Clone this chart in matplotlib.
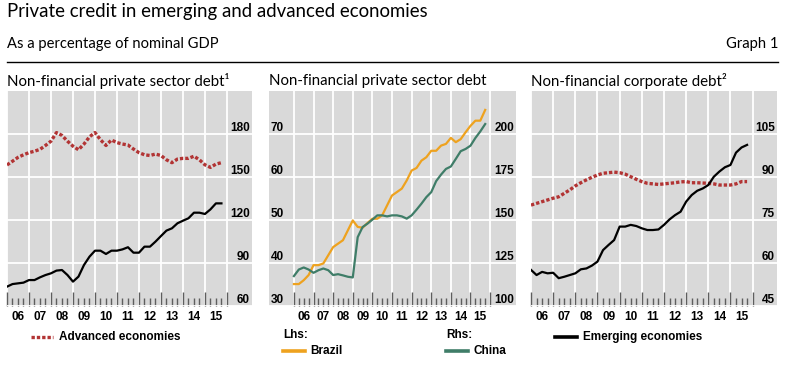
import matplotlib
matplotlib.use("Agg")
import matplotlib.pyplot as plt
import numpy as np
import pandas as pd
from matplotlib.lines import Line2D

# ---------------- data (quarterly, 2006Q1 - 2015Q4) ----------------
quarters = pd.period_range("2006Q1", "2015Q4", freq="Q")
x_q = np.asarray(quarters.year + (quarters.quarter - 1) / 4.0, dtype=float)

year_labels = ["06", "07", "08", "09", "10", "11", "12", "13", "14", "15"]

# Panel 1: non-financial private sector debt (% of GDP)
p1_advanced = [158.4, 161.0, 163.7, 165.5, 167.0, 168.0, 169.3, 172.0, 175.0, 181.0,
               179.0, 175.0, 171.5, 169.0, 173.0, 178.0, 181.0, 176.0, 172.0, 175.8,
               174.0, 173.0, 172.3, 169.5, 167.0, 165.5, 165.0, 166.0, 165.0, 162.0,
               160.0, 162.5, 163.0, 163.0, 164.5, 162.0, 158.5, 156.7, 159.0, 160.0]
p1_emerging = [73.5, 75.3, 75.8, 76.3, 78.1, 78.1, 80.0, 81.6, 82.8, 84.7,
               85.1, 81.6, 77.0, 80.5, 88.6, 94.4, 98.6, 98.6, 96.3, 98.6,
               98.6, 99.5, 101.0, 97.2, 97.2, 101.4, 101.4, 104.9, 108.8, 112.6,
               114.2, 117.7, 119.5, 121.2, 125.1, 125.1, 124.2, 127.4, 131.6, 131.6]

# Panel 2: Brazil (lhs), China (rhs)
p2_brazil = [35.1, 35.1, 36.0, 37.2, 39.5, 39.5, 39.9, 41.8, 43.7, 44.5,
             45.3, 47.6, 49.9, 48.4, 48.2, 49.3, 50.3, 50.3, 51.1, 53.4,
             55.7, 56.5, 57.3, 59.2, 61.5, 62.1, 63.8, 64.6, 66.1, 66.1,
             67.3, 67.7, 69.1, 68.1, 68.8, 70.4, 71.9, 73.1, 73.1, 75.6]
p2_china = [117.4, 121.2, 122.4, 121.2, 119.3, 120.8, 121.8, 120.8, 118.0, 118.5,
            117.8, 117.0, 116.6, 140.0, 145.9, 147.9, 150.2, 152.7, 152.7, 152.1,
            152.7, 152.7, 152.1, 150.8, 152.7, 156.0, 159.5, 163.3, 166.2, 172.6,
            176.4, 179.7, 181.1, 185.5, 190.0, 191.3, 193.2, 197.7, 201.5, 205.8]

# Panel 3: non-financial corporate debt
p3_advanced = [80.2, 80.8, 81.4, 82.0, 82.6, 83.1, 84.3, 85.5, 86.9, 88.0,
               89.0, 89.9, 90.7, 91.3, 91.5, 91.7, 91.5, 91.0, 90.1, 89.2,
               88.4, 87.8, 87.6, 87.4, 87.6, 87.8, 88.0, 88.3, 88.4, 88.0,
               88.0, 87.9, 87.8, 87.6, 87.2, 87.2, 87.2, 87.6, 88.4, 88.4]
p3_emerging = [57.6, 55.8, 56.9, 56.4, 56.6, 54.7, 55.2, 55.8, 56.4, 57.8,
               58.1, 59.1, 60.5, 64.5, 66.3, 68.0, 72.7, 72.7, 73.3, 72.9,
               72.1, 71.5, 71.5, 71.7, 73.3, 75.2, 76.7, 77.9, 81.4, 83.7,
               85.2, 86.0, 87.2, 90.1, 91.9, 93.4, 94.2, 98.5, 100.3, 101.2]

p1_yticks = [60, 90, 120, 150, 180]
p2_lticks = [30, 40, 50, 60, 70]
p2_rticks = [100, 125, 150, 175, 200]
p3_yticks = [45, 60, 75, 90, 105]

# ---------------- styling ----------------
W, H = 790, 374
RED = "#b23434"
ORANGE = "#eea21f"
GREEN = "#3f7d68"
BLACK = "#000000"
BG = "#d9d9d9"
TITLE_FONT = ["Lato", "DejaVu Sans"]
LBL_FONT = ["Liberation Sans", "DejaVu Sans"]
LBL_SIZE = 8.5
DOT = (0, (1.0, 0.6))

fig = plt.figure(figsize=(W / 100, H / 100), dpi=100)


def fx(px):
    return px / W


def fy(py):
    return 1 - py / H


def make_axes(l, r, t, b):
    return fig.add_axes([fx(l), fy(b), (r - l) / W, (b - t) / H])


def style(ax, xlim, ylim):
    ax.set_facecolor(BG)
    for s in ax.spines.values():
        s.set_visible(False)
    ax.set_xlim(*xlim)
    ax.set_ylim(*ylim)
    ax.set_xticks(np.arange(2006, 2017))
    minors = [v for v in np.arange(2006, 2016, 0.25) if v % 1 != 0]
    ax.set_xticks(minors, minor=True)
    ax.tick_params(axis="x", which="both", direction="in", labelbottom=False,
                   color="#5e5e5e", width=1.0)
    ax.tick_params(axis="x", which="major", length=10)
    ax.tick_params(axis="x", which="minor", length=6)
    ax.grid(axis="x", which="major", color="white", lw=1.3)
    ax.grid(axis="y", which="major", color="white", lw=1.3)
    ax.set_axisbelow(True)
    sec = ax.secondary_xaxis("bottom")
    sec.set_xticks(np.arange(2006, 2016) + 0.5, labels=year_labels,
                   fontweight="bold", fontfamily=LBL_FONT, fontsize=LBL_SIZE)
    sec.tick_params(length=0, pad=3.5)
    for s in sec.spines.values():
        s.set_visible(False)


def right_labels(ax, ticks):
    ax.set_yticks(ticks)
    ax.yaxis.tick_right()
    ax.tick_params(axis="y", length=0, labelright=True, labelleft=False,
                   pad=-1.5, labelsize=LBL_SIZE)
    for tk in ax.yaxis.get_major_ticks():
        tk.label2.set_ha("right")
        tk.label2.set_va("bottom")
        tk.label2.set_fontweight("bold")
        tk.label2.set_fontfamily(LBL_FONT)


def left_labels(ax, ticks):
    ax.set_yticks(ticks)
    ax.tick_params(axis="y", length=0, labelleft=True, labelright=False,
                   pad=-1.0, labelsize=LBL_SIZE)
    for tk in ax.yaxis.get_major_ticks():
        tk.label1.set_ha("left")
        tk.label1.set_va("bottom")
        tk.label1.set_fontweight("bold")
        tk.label1.set_fontfamily(LBL_FONT)


# ---------------- header ----------------
fig.text(fx(7), fy(12), "Private credit in emerging and advanced economies",
         family=TITLE_FONT, fontsize=13.4, va="center", ha="left")
fig.text(fx(7), fy(44), "As a percentage of nominal GDP",
         family=TITLE_FONT, fontsize=10.6, va="center", ha="left")
fig.text(fx(778), fy(44), "Graph 1",
         family=TITLE_FONT, fontsize=10.6, va="center", ha="right")
fig.add_artist(Line2D([fx(7), fx(778)], [fy(62), fy(62)], color="black", lw=1.0,
                      transform=fig.transFigure))

panel_titles = ["Non-financial private sector debt\u00b9",
                "Non-financial private sector debt",
                "Non-financial corporate debt\u00b2"]
for px, t in zip([7, 269, 531], panel_titles):
    fig.text(fx(px), fy(81), t, family=TITLE_FONT, fontsize=10.8, va="center", ha="left")

# ---------------- panel 1 ----------------
ax1 = make_axes(7, 252, 91, 306)
style(ax1, (2006.0, 2017.14), (60, 210))
ax1.plot(x_q, p1_advanced, color=RED, lw=2.4, ls=DOT, dash_capstyle="butt")
ax1.plot(x_q, p1_emerging, color=BLACK, lw=1.6)
right_labels(ax1, p1_yticks)

# ---------------- panel 2 ----------------
ax2 = make_axes(269, 516, 91, 306)
ax2r = ax2.twinx()
style(ax2, (2004.73, 2017.32), (30, 80))
ax2r.set_ylim(100, 225)
for s in ax2r.spines.values():
    s.set_visible(False)
ax2.plot(x_q, p2_brazil, color=ORANGE, lw=1.6)
ax2r.plot(x_q, p2_china, color=GREEN, lw=1.6)
left_labels(ax2, p2_lticks)
right_labels(ax2r, p2_rticks)

# ---------------- panel 3 ----------------
ax3 = make_axes(531, 777, 91, 306)
style(ax3, (2006.0, 2017.1), (45, 120))
ax3.plot(x_q, p3_advanced, color=RED, lw=2.4, ls=DOT, dash_capstyle="butt")
ax3.plot(x_q, p3_emerging, color=BLACK, lw=1.6)
right_labels(ax3, p3_yticks)

# ---------------- legends ----------------
def leg_line(x0, x1, y, **kw):
    fig.add_artist(Line2D([fx(x0), fx(x1)], [fy(y), fy(y)], transform=fig.transFigure, **kw))


def leg_text(x, y, s):
    fig.text(fx(x), fy(y), s, family=LBL_FONT, fontweight="bold", fontsize=LBL_SIZE,
             va="center", ha="left")


leg_line(31, 53, 337, color=RED, lw=2.4, ls=DOT, dash_capstyle="butt")
leg_text(59, 337, "Advanced economies")
leg_text(283, 335, "Lhs:")
leg_line(283, 305, 351, color=ORANGE, lw=2.6)
leg_text(310, 351, "Brazil")
leg_text(446, 335, "Rhs:")
leg_line(446, 468, 351, color=GREEN, lw=2.6)
leg_text(473, 351, "China")
leg_line(555, 577, 337, color=BLACK, lw=2.6)
leg_text(583, 337, "Emerging economies")

fig.savefig("out.png", dpi=100)
